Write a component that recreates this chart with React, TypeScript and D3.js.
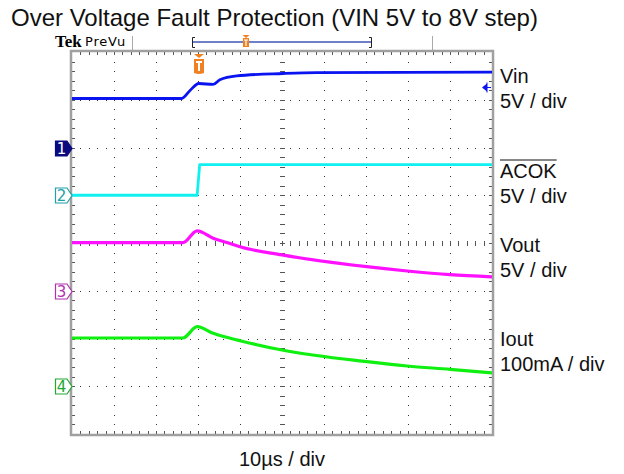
import { useEffect, useRef } from "react";
import * as d3 from "d3";

// time axis, µs (10 µs / div, 10 divisions)
const vinTime = [0, 26.1, 28.1, 30.2, 33.6, 35.2, 39.2, 50.2, 58.3, 100];
const vinVolts = [5.13, 5.13, 5.97, 6.7, 6.6, 7.1, 7.5, 7.75, 7.85, 7.9];

const acokTime = [0, 29.8, 30.4, 100];
const acokVolts = [0, 0, 3.2, 3.2];

const voutTime = [0, 26.4, 29.8, 33.6, 36.9, 40, 50, 70.2, 79.8, 90, 100];
const voutVolts = [5.03, 5.03, 6.26, 5.5, 5.05, 4.6, 3.75, 2.52, 2.07, 1.68, 1.45];

const ioutTime = [0, 26.4, 29.8, 33.6, 36.8, 40, 50, 70.2, 79.8, 90, 100];
const ioutMa = [101, 101, 124.7, 110.9, 102.5, 95.4, 75.9, 51.4, 42.4, 35.5, 28];

const channelNames = ["Vin", "ACOK", "Vout", "Iout"];
const channelScales = ["5V / div", "5V / div", "5V / div", "100mA / div"];
const channelPerDiv = [5, 5, 5, 100];
const channelOffsets = [2, 1, -1, -3];
const channelColors = ["#0a14f0", "#10f0f0", "#ff10ff", "#10f010"];
const markerColors = ["#0a0a80", "#20a0a8", "#b030b0", "#20a830"];

const App = () => {
  const svgRef = useRef<SVGSVGElement>(null);

  useEffect(() => {
    if (!svgRef.current) return;
    const svg = d3.select(svgRef.current);
    svg.selectAll("*").remove();

    const left = 72;
    const right = 492;
    const top = 52;
    const bottom = 434;

    const x = d3.scaleLinear().domain([0, 100]).range([left, right]);
    const y = d3.scaleLinear().domain([-4, 4]).range([bottom, top]);

    // title
    svg
      .append("text")
      .attr("x", 11)
      .attr("y", 26)
      .attr("font-family", "Liberation Sans, Arial, sans-serif")
      .attr("font-size", 24)
      .attr("fill", "#111")
      .text("Over Voltage Fault Protection (VIN 5V to 8V step)");

    // scope header
    svg
      .append("text")
      .attr("x", 55)
      .attr("y", 47)
      .attr("font-family", "Liberation Serif, serif")
      .attr("font-weight", "bold")
      .attr("font-size", 17)
      .attr("fill", "#000")
      .text("Tek");
    svg
      .append("text")
      .attr("x", 85)
      .attr("y", 46)
      .attr("font-family", "DejaVu Sans, sans-serif")
      .attr("font-size", 13)
      .attr("letter-spacing", 0.8)
      .attr("fill", "#000")
      .text("PreVu");
    [132, 432].forEach((px) =>
      svg
        .append("line")
        .attr("x1", px + 0.5)
        .attr("x2", px + 0.5)
        .attr("y1", 36)
        .attr("y2", 51)
        .attr("stroke", "#aaa")
        .attr("stroke-width", 1),
    );

    // record bar
    svg
      .append("line")
      .attr("x1", 193)
      .attr("x2", 371)
      .attr("y1", 42)
      .attr("y2", 42)
      .attr("stroke", "#6f7fc8")
      .attr("stroke-width", 2);
    svg
      .append("path")
      .attr("d", "M195,37.5H192.5V47.5H195 M369,37.5H371.5V47.5H369")
      .attr("fill", "none")
      .attr("stroke", "#222")
      .attr("stroke-width", 1);
    svg
      .append("path")
      .attr("d", "M242.5,35H249.5L246,38Z M243,38H249V47H243Z")
      .attr("fill", "#f08020");
    svg
      .append("path")
      .attr("d", "M244,40H248 M246,40V46")
      .attr("stroke", "#fff")
      .attr("stroke-width", 1.2);

    // graticule
    const grid = svg.append("g").attr("fill", "#333");
    for (let i = 1; i < 10; i++) {
      for (let j = 0; j <= 40; j++) {
        grid
          .append("rect")
          .attr("x", Math.round(x(i * 10)))
          .attr("y", Math.round(y(-4 + j * 0.2)))
          .attr("width", 1)
          .attr("height", 1);
      }
    }
    for (let i = -3; i <= 3; i++) {
      for (let j = 0; j <= 50; j++) {
        grid
          .append("rect")
          .attr("x", Math.round(x(j * 2)))
          .attr("y", Math.round(y(i)))
          .attr("width", 1)
          .attr("height", 1);
      }
    }

    const ticks = svg.append("g").attr("stroke", "#555").attr("stroke-width", 1);
    for (let j = 1; j < 40; j++) {
      const py = Math.round(y(-4 + j * 0.2)) + 0.5;
      ticks.append("line").attr("x1", x(50) - 2).attr("x2", x(50) + 3).attr("y1", py).attr("y2", py);
      ticks.append("line").attr("x1", left).attr("x2", left + 3).attr("y1", py).attr("y2", py);
      ticks.append("line").attr("x1", right - 3).attr("x2", right).attr("y1", py).attr("y2", py);
    }
    for (let j = 1; j < 50; j++) {
      const px = Math.round(x(j * 2)) + 0.5;
      ticks.append("line").attr("x1", px).attr("x2", px).attr("y1", y(0) - 2).attr("y2", y(0) + 3);
      ticks.append("line").attr("x1", px).attr("x2", px).attr("y1", top).attr("y2", top + 3);
      ticks.append("line").attr("x1", px).attr("x2", px).attr("y1", bottom - 3).attr("y2", bottom);
    }

    svg
      .append("rect")
      .attr("x", left - 1)
      .attr("y", top - 1)
      .attr("width", right - left + 2)
      .attr("height", bottom - top + 2)
      .attr("fill", "none")
      .attr("stroke", "#a0a0a0")
      .attr("stroke-width", 2.5);

    // traces
    const series = [
      { t: vinTime, v: vinVolts, curve: d3.curveMonotoneX },
      { t: acokTime, v: acokVolts, curve: d3.curveLinear },
      { t: voutTime, v: voutVolts, curve: d3.curveMonotoneX },
      { t: ioutTime, v: ioutMa, curve: d3.curveMonotoneX },
    ];
    series.forEach((s, ch) => {
      const line = d3
        .line<number>()
        .x((_d, i) => x(s.t[i]))
        .y((d) => y(channelOffsets[ch] + d / channelPerDiv[ch]))
        .curve(s.curve);
      svg
        .append("path")
        .attr("d", line(s.v))
        .attr("fill", "none")
        .attr("stroke", channelColors[ch])
        .attr("stroke-width", ch >= 2 ? 3.2 : 2.8)
        .attr("stroke-linejoin", "round");
    });

    // channel ground markers
    channelOffsets.forEach((off, ch) => {
      const cy = Math.round(y(off)) + 0.5;
      const filled = ch === 0;
      svg
        .append("path")
        .attr(
          "d",
          `M${left - 16.5},${cy - 7.5}H${left - 5}L${left},${cy}L${left - 5},${cy + 7.5}H${left - 16.5}Z`,
        )
        .attr("fill", filled ? markerColors[ch] : "#fff")
        .attr("stroke", markerColors[ch])
        .attr("stroke-width", 1.2);
      svg
        .append("text")
        .attr("x", left - 10.5)
        .attr("y", cy + 5.5)
        .attr("text-anchor", "middle")
        .attr("font-family", "DejaVu Sans, sans-serif")
        .attr("font-size", 15)
        .attr("fill", filled ? "#fff" : markerColors[ch])
        .text(String(ch + 1));
    });

    // trigger marker
    const tx = Math.round(x(30.2));
    svg
      .append("path")
      .attr("d", `M${tx - 5},${top + 2}H${tx + 5}L${tx},${top + 6}Z M${tx - 5},${top + 7}H${tx + 5}V${top + 21}Q${tx},${top + 23} ${tx - 5},${top + 21}Z`)
      .attr("fill", "#f08020");
    svg
      .append("path")
      .attr("d", `M${tx - 3},${top + 10}H${tx + 3} M${tx},${top + 10}V${top + 19}`)
      .attr("stroke", "#fff")
      .attr("stroke-width", 2);

    // ch1 level arrow on right edge
    const ay = Math.round(y(3.27)) + 0.5;
    svg
      .append("path")
      .attr("d", `M${right - 10},${ay}L${right - 5},${ay - 4}V${ay + 4}Z`)
      .attr("fill", channelColors[0]);
    svg
      .append("path")
      .attr("d", `M${right - 5},${ay}H${right - 1} M${right - 5},${ay - 5}V${ay + 5}`)
      .attr("stroke", channelColors[0])
      .attr("stroke-width", 1);

    // channel labels
    const labelY = [83, 178, 252, 346];
    channelNames.forEach((name, ch) => {
      const g = svg
        .append("g")
        .attr("font-family", "Liberation Sans, Arial, sans-serif")
        .attr("font-size", 20)
        .attr("fill", "#111");
      const t = g.append("text").attr("x", 500).attr("y", labelY[ch]).text(name);
      g.append("text")
        .attr("x", 500)
        .attr("y", labelY[ch] + 25)
        .text(channelScales[ch]);
      if (name === "ACOK") {
        const w = (t.node() as SVGTextElement).getComputedTextLength();
        g.append("line")
          .attr("x1", 500)
          .attr("x2", 500 + w)
          .attr("y1", labelY[ch] - 18)
          .attr("y2", labelY[ch] - 18)
          .attr("stroke", "#111")
          .attr("stroke-width", 1.2);
      }
    });

    svg
      .append("text")
      .attr("x", x(50))
      .attr("y", 466)
      .attr("text-anchor", "middle")
      .attr("font-family", "Liberation Sans, Arial, sans-serif")
      .attr("font-size", 20)
      .attr("fill", "#111")
      .text("10µs / div");
  }, []);

  return (
    <svg
      ref={svgRef}
      width={624}
      height={474}
      style={{ position: "absolute", left: 0, top: 0, background: "#fff" }}
    />
  );
};

export default App;
